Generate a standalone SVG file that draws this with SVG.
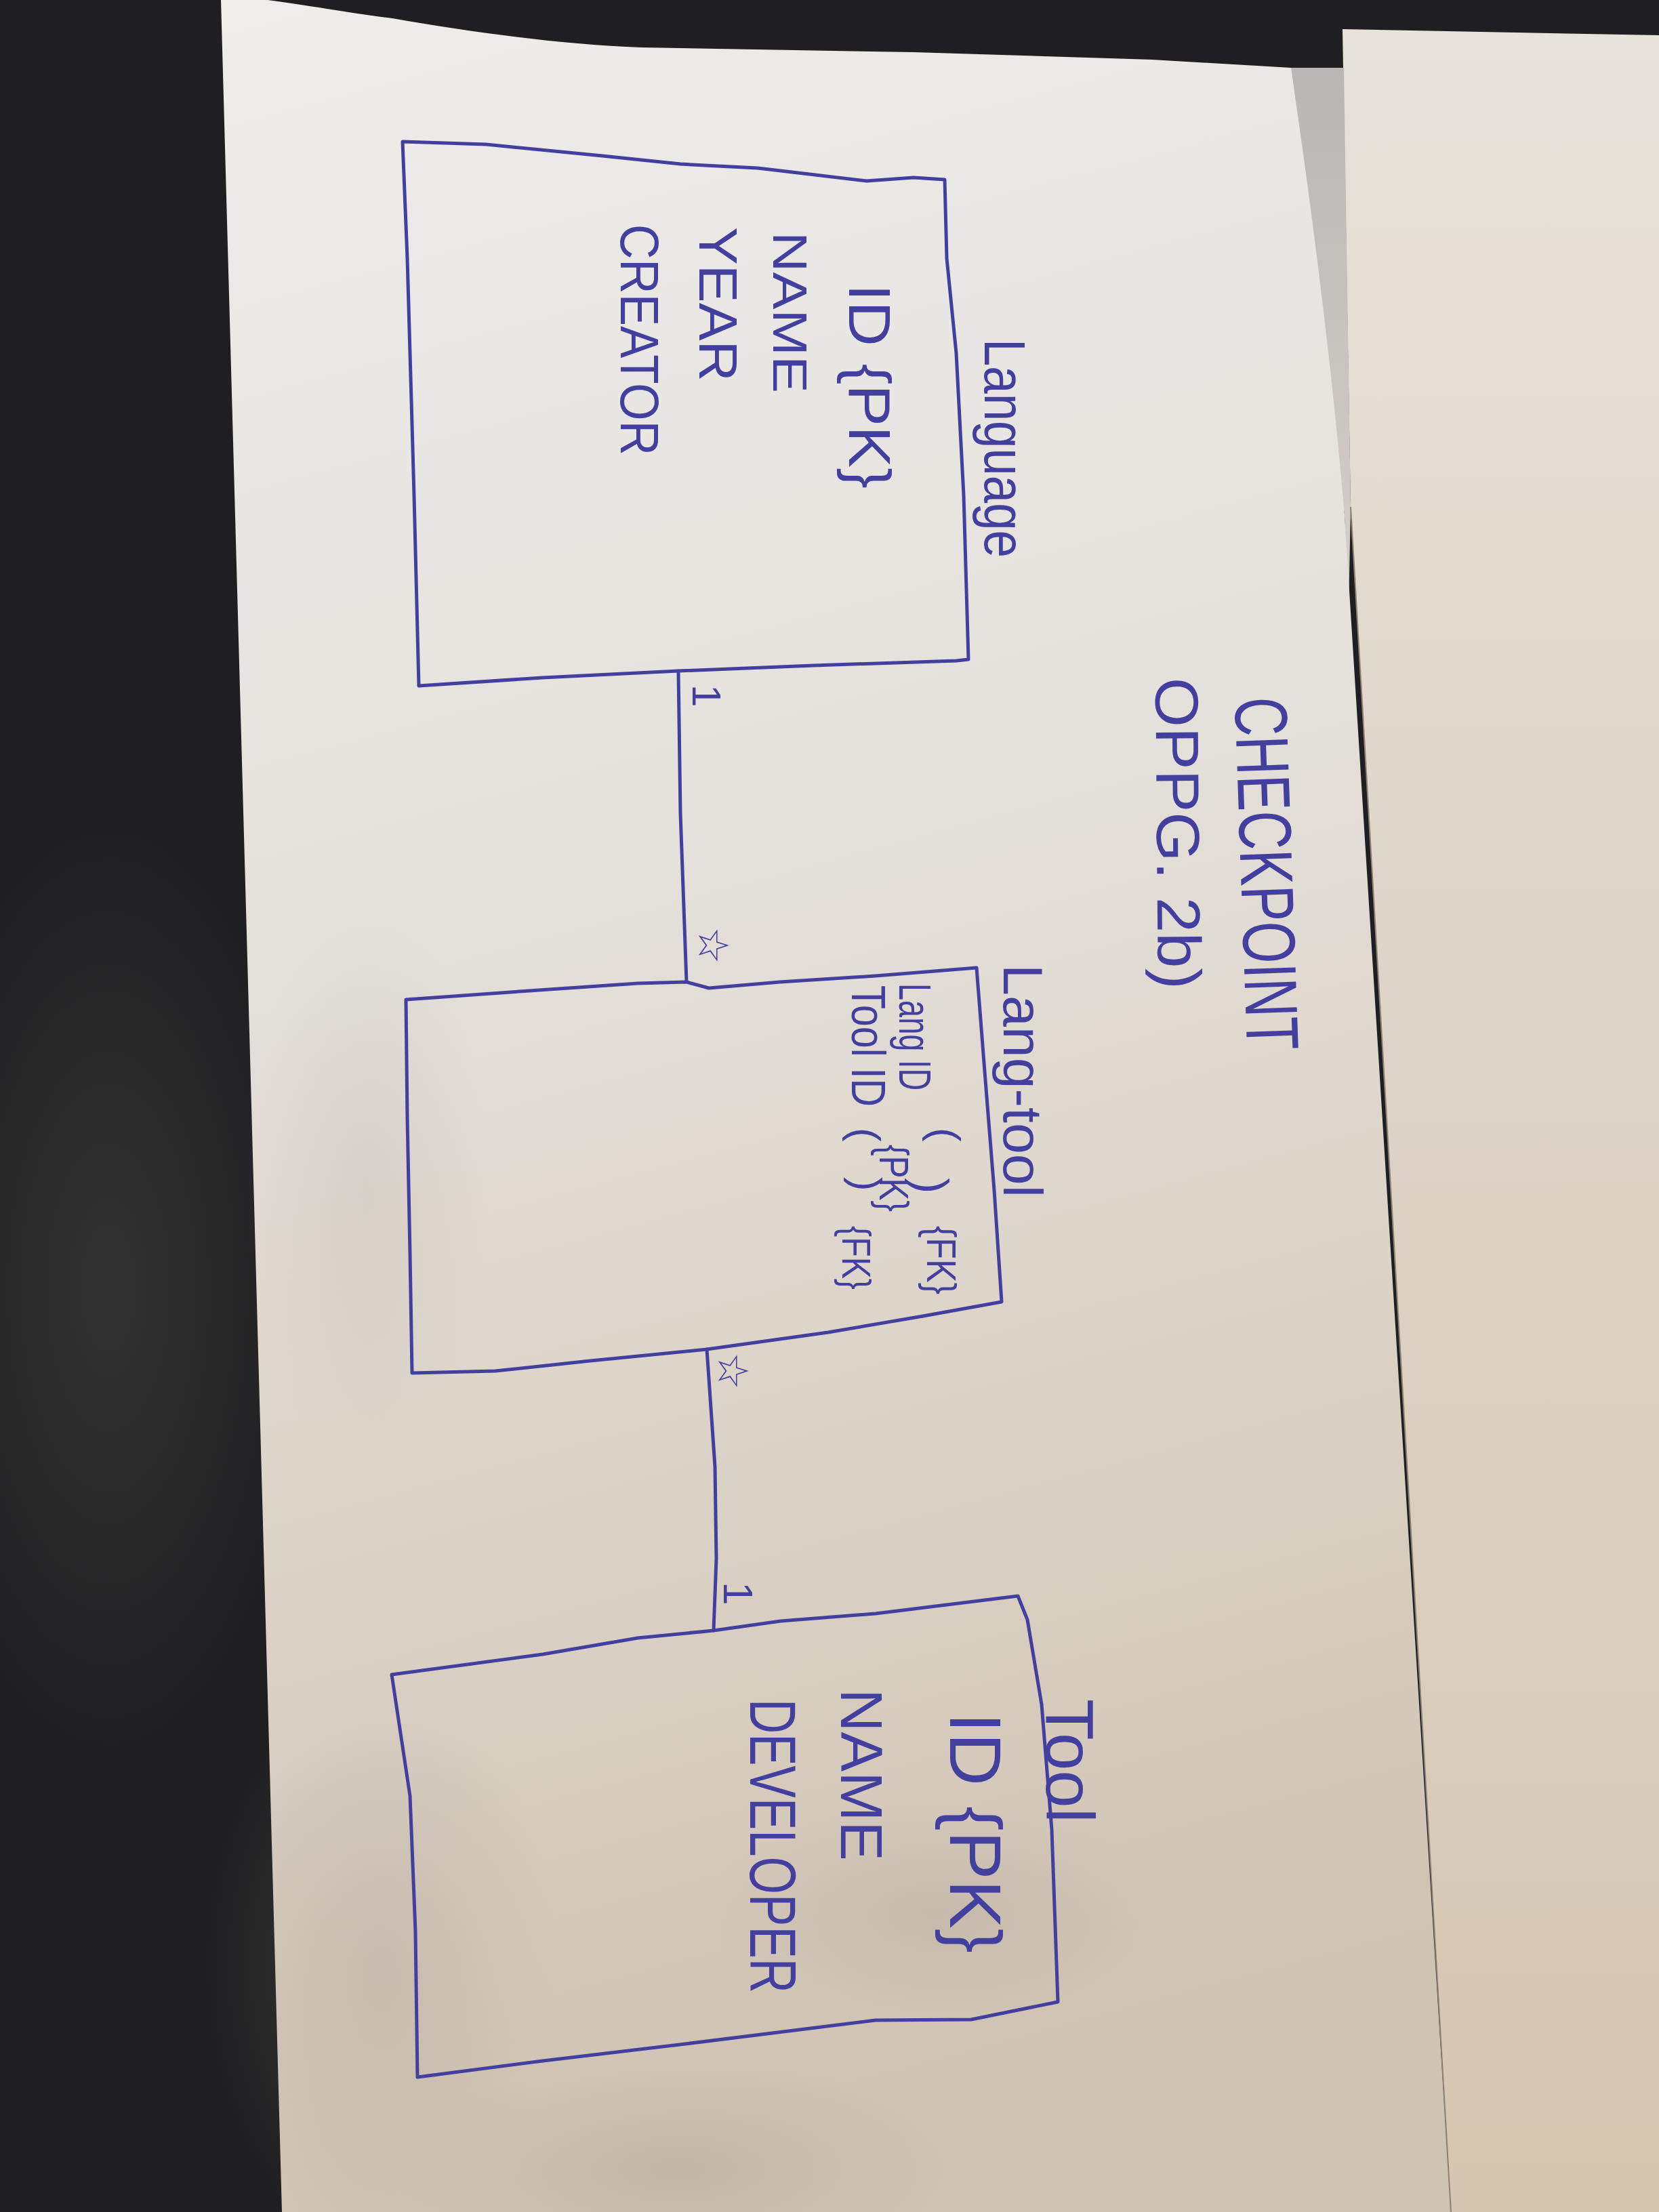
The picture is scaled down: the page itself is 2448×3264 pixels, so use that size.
<svg xmlns="http://www.w3.org/2000/svg" width="2448" height="3264" viewBox="0 0 2448 3264">
  <defs>
    <linearGradient id="sheetMain" x1="0" y1="0" x2="0.15" y2="1">
      <stop offset="0" stop-color="#eeedea"/>
      <stop offset="0.4" stop-color="#e5e2dd"/>
      <stop offset="0.72" stop-color="#dbd2c6"/>
      <stop offset="1" stop-color="#cfc3b2"/>
    </linearGradient>
    <linearGradient id="sheetBack" x1="0" y1="0" x2="0" y2="1">
      <stop offset="0" stop-color="#e7e2da"/>
      <stop offset="0.5" stop-color="#ddd3c6"/>
      <stop offset="1" stop-color="#d5c6b1"/>
    </linearGradient>
    <linearGradient id="gap" x1="0" y1="0" x2="0" y2="1">
      <stop offset="0" stop-color="#b9b6b4"/>
      <stop offset="1" stop-color="#d6d0c8"/>
    </linearGradient>
    <radialGradient id="shade" cx="0.5" cy="0.5" r="0.5">
      <stop offset="0" stop-color="#9a9088" stop-opacity="0.24"/>
      <stop offset="1" stop-color="#9a9088" stop-opacity="0"/>
    </radialGradient>
    <radialGradient id="glow" cx="0.5" cy="0.5" r="0.5">
      <stop offset="0" stop-color="#3c3a3a" stop-opacity="0.7"/>
      <stop offset="1" stop-color="#3c3a3a" stop-opacity="0"/>
    </radialGradient>
    <style>
      .ink { fill: none; stroke: #433f9f; stroke-width: 5; stroke-linejoin: round; stroke-linecap: round; }
      .hand { font-family: "Liberation Sans", Arial, sans-serif; fill: #433f9f; }
      .mark { font-family: "DejaVu Sans", sans-serif; fill: #433f9f; }
    </style>
  </defs>

  <!-- table surface and the two sheets of paper -->
  <g id="backdrop">
    <rect x="0" y="0" width="2448" height="3264" fill="#1f1f21"/>
    <ellipse cx="160" cy="1900" rx="300" ry="700" fill="url(#glow)"/>
    <polygon points="1981,43 2448,52 2448,3264 2141,3264 1993,748" fill="url(#sheetBack)"/>
    <polygon points="1900,100 1983,100 1993,748 1990,900 1984,760" fill="url(#gap)"/>
    <path d="M326,0 L395,0 C470,10 520,20 579,27 C700,48 830,66 946,70 L1348,77 L1700,88 L1905,100 C1925,240 1960,480 1984,760 L2141,3264 L416,3264 Z" fill="url(#sheetMain)"/>
    <ellipse cx="560" cy="2900" rx="260" ry="420" fill="url(#shade)"/>
    <ellipse cx="1380" cy="2820" rx="340" ry="160" fill="url(#shade)"/>
    <ellipse cx="1000" cy="3200" rx="420" ry="160" fill="url(#shade)"/>
    <ellipse cx="540" cy="1750" rx="180" ry="420" fill="url(#shade)" opacity="0.6"/>
    <line x1="1993" y1="748" x2="2141" y2="3264" stroke="#8c8172" stroke-width="2"/>
  </g>

  <!-- heading -->
  <g id="heading">
    <text class="hand" transform="translate(1822,1030) rotate(88)" font-size="110" textLength="521" lengthAdjust="spacingAndGlyphs">CHECKPOINT</text>
    <text class="hand" transform="translate(1705,1000) rotate(89.5)" font-size="90" textLength="460" lengthAdjust="spacingAndGlyphs">OPPG. 2b)</text>
  </g>

  <!-- entity: Language -->
  <g id="language">
    <path class="ink" d="M594,209 L717,213 L889,230 L1004,242 L1118,248 L1279,267 L1348,262 L1394,265 L1397,381 L1411,521 L1422,731 L1429,973 L1411,975 L1200,982 L1001,990 L800,1000 L618,1012 L611,731 L601,381 Z"/>
    <text class="hand" transform="translate(1453,500) rotate(90)" font-size="85" textLength="323" lengthAdjust="spacingAndGlyphs">Language</text>
    <text class="hand" transform="translate(1253,419) rotate(90)" font-size="88" textLength="302" lengthAdjust="spacingAndGlyphs">ID {PK}</text>
    <text class="hand" transform="translate(1141,342) rotate(90)" font-size="70" textLength="238" lengthAdjust="spacingAndGlyphs">NAME</text>
    <text class="hand" transform="translate(1032,335) rotate(90)" font-size="80" textLength="228" lengthAdjust="spacingAndGlyphs">YEAR</text>
    <text class="hand" transform="translate(916,331) rotate(90)" font-size="80" textLength="341" lengthAdjust="spacingAndGlyphs">CREATOR</text>
  </g>

  <!-- entity: Lang-tool -->
  <g id="lang-tool">
    <path class="ink" d="M599,1475 L766,1463 L941,1451 L1013,1449 L1046,1458 L1151,1449 L1292,1440 L1441,1428 L1453,1581 L1467,1756 L1478,1921 L1362,1942 L1222,1966 L1043,1991 L871,2008 L731,2023 L608,2026 L605,1850 L601,1650 Z"/>
    <text class="hand" transform="translate(1481,1423) rotate(90)" font-size="82" textLength="344" lengthAdjust="spacingAndGlyphs">Lang-tool</text>
    <text class="hand" transform="translate(1327,1451) rotate(90)" font-size="66" textLength="158" lengthAdjust="spacingAndGlyphs">Lang ID</text>
    <text class="hand" transform="translate(1374,1664) rotate(90)" font-size="62">(</text>
    <text class="hand" transform="translate(1350,1738) rotate(90)" font-size="70">)</text>
    <text class="hand" transform="translate(1368,1809) rotate(90)" font-size="62" textLength="101" lengthAdjust="spacingAndGlyphs">{FK}</text>
    <text class="hand" transform="translate(1298,1689) rotate(90)" font-size="62" textLength="99" lengthAdjust="spacingAndGlyphs">{PK}</text>
    <text class="hand" transform="translate(1257,1454) rotate(90)" font-size="70" textLength="179" lengthAdjust="spacingAndGlyphs">Tool ID</text>
    <text class="hand" transform="translate(1256,1664) rotate(90)" font-size="62">(</text>
    <text class="hand" transform="translate(1258,1737) rotate(90)" font-size="62">)</text>
    <text class="hand" transform="translate(1243,1809) rotate(90)" font-size="60" textLength="94" lengthAdjust="spacingAndGlyphs">{FK}</text>
  </g>

  <!-- entity: Tool -->
  <g id="tool">
    <path class="ink" d="M578,2471 L801,2441 L941,2417 L1053,2406 L1152,2392 L1292,2381 L1502,2355 L1516,2390 L1537,2515 L1552,2700 L1561,2954 L1433,2980 L1292,2981 L1011,3016 L801,3041 L616,3065 L613,2850 L605,2650 Z"/>
    <text class="hand" transform="translate(1544,2507) rotate(90)" font-size="100" textLength="183" lengthAdjust="spacingAndGlyphs">Tool</text>
    <text class="hand" transform="translate(1402,2527) rotate(90)" font-size="108" textLength="355" lengthAdjust="spacingAndGlyphs">ID {PK}</text>
    <text class="hand" transform="translate(1241,2492) rotate(90)" font-size="88" textLength="254" lengthAdjust="spacingAndGlyphs">NAME</text>
    <text class="hand" transform="translate(1107,2507) rotate(90)" font-size="96" textLength="434" lengthAdjust="spacingAndGlyphs">DEVELOPER</text>
  </g>

  <!-- relationships with multiplicities -->
  <g id="connectors">
    <path class="ink" d="M1001,990 L1004,1200 L1013,1449"/>
    <path class="ink" d="M1043,1991 L1055,2164 L1057,2300 L1053,2406"/>
    <text class="hand" transform="translate(1022,1010) rotate(90)" font-size="60">1</text>
    <text class="mark" transform="translate(1052,1395) rotate(90)" font-size="62" text-anchor="middle" dominant-baseline="central">☆</text>
    <text class="mark" transform="translate(1081,2023) rotate(90)" font-size="62" text-anchor="middle" dominant-baseline="central">☆</text>
    <text class="hand" transform="translate(1068,2334) rotate(90)" font-size="62">1</text>
  </g>
</svg>
